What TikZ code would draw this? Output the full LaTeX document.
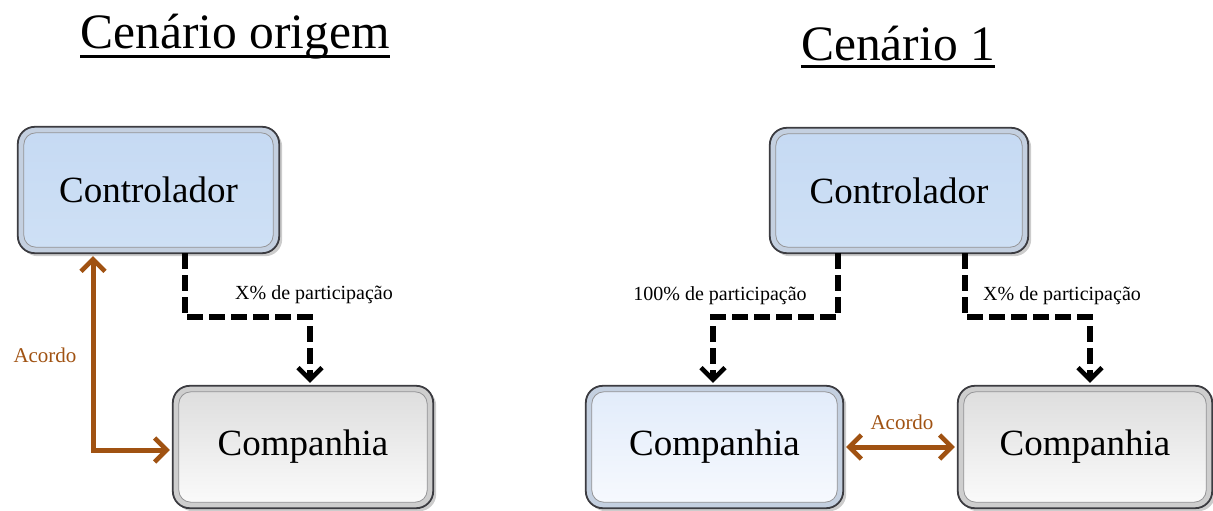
\documentclass[tikz,border=0pt]{standalone}
\usepackage{fontspec}
\setmainfont{Liberation Serif}
\usetikzlibrary{arrows.meta,backgrounds,calc}
\definecolor{brownarr}{RGB}{160,82,18}
\definecolor{bluetop}{RGB}{198,218,243}
\definecolor{bluemid}{RGB}{226,237,251}
\definecolor{bluebot}{RGB}{206,224,245}
\definecolor{lbluetop}{RGB}{226,236,250}
\definecolor{lbluebot}{RGB}{246,249,254}
\definecolor{graytop}{RGB}{222,222,222}
\definecolor{graybot}{RGB}{250,250,250}
\definecolor{frameblue}{RGB}{196,208,224}
\definecolor{framegray}{RGB}{206,206,206}
\definecolor{outline}{RGB}{60,60,65}
\tikzset{
  boxnode/.style={rectangle, inner sep=0pt, font=\fontsize{37}{40}\selectfont},
  title/.style={inner sep=0pt, anchor=base, font=\fontsize{49.5}{52}\selectfont},
  lbl/.style={inner sep=0pt, font=\fontsize{20}{22}\selectfont},
  acordo/.style={inner sep=0pt, text=brownarr, font=\fontsize{21}{23}\selectfont},
  barb/.tip={Straight Barb[length=12pt,width=24pt,line width=4.5pt]},
  dasharr/.style={line width=5.5pt, dash pattern=on 16pt off 6pt,
     -barb, shorten >=3pt},
  brownarr/.style={draw=brownarr, line width=5pt, barb-barb,
     shorten >=3pt, shorten <=3pt},
  outerframe/.style={rounded corners=17pt, draw=outline, line width=1.8pt},
  innerface/.style={rounded corners=12pt, draw=outline!55, line width=0.8pt},
  blueface/.style={top color=bluetop, middle color=bluemid, bottom color=bluebot},
  lblueface/.style={top color=lbluetop, bottom color=lbluebot},
  grayface/.style={top color=graytop, bottom color=graybot},
}
\begin{document}
\begin{tikzpicture}[x=1pt,y=-1pt]
\useasboundingbox (0,0) rectangle (1213,511);

% titles
\node[title] (t1) at (235,49) {Cenário origem};
\draw[line width=3pt] ($(t1.base west)+(0,8)$) -- ($(t1.base east)+(0,8)$);
\node[title] (t2) at (898,60) {Cenário 1};
\draw[line width=3pt] ($(t2.base west)+(0,7)$) -- ($(t2.base east)+(0,7)$);

% boxes
\node[boxnode, minimum width=261pt, minimum height=126pt] (lc) at (148.5,190) {Controlador};
\node[boxnode, minimum width=260pt, minimum height=122pt] (lp) at (303,447) {Companhia};
\node[boxnode, minimum width=258pt, minimum height=125pt] (rc) at (899,190.5) {Controlador};
\node[boxnode, minimum width=257pt, minimum height=122pt] (rp1) at (714.5,447) {Companhia};
\node[boxnode, minimum width=254pt, minimum height=122pt] (rp2) at (1085,447) {Companhia};

\begin{scope}[on background layer]
\foreach \n/\fr/\fc in {lc/frameblue/blueface, lp/framegray/grayface, rc/frameblue/blueface, rp1/frameblue/lblueface, rp2/framegray/grayface}{
  \fill[black, opacity=0.2, rounded corners=17pt] ([shift={(3pt,-3pt)}]\n.north west) rectangle ([shift={(3pt,-3pt)}]\n.south east);
  \draw[outerframe, fill=\fr] (\n.north west) rectangle (\n.south east);
  \shade[innerface, \fc] ([shift={(6pt,-6pt)}]\n.north west) rectangle ([shift={(-6pt,6pt)}]\n.south east);
}
\end{scope}

% left scenario connectors
\coordinate (la) at (185,317);
\coordinate (lb) at (310,317);
\draw[dasharr] (lc.south -| la) -- (la) -- (lb) -- (lp.north -| lb);
\node[lbl] (lx) at (314,295) {X\% de participação};

\coordinate (lk) at (93,450);
\draw[brownarr] (lc.south -| lk) -- (lk) -- (lp.west |- lk);
\node[acordo] (la1) at (45,355) {Acordo};

% right scenario connectors
\coordinate (ra) at (838,317);
\coordinate (rb) at (713,317);
\draw[dasharr] (rc.south -| ra) -- (ra) -- (rb) -- (rp1.north -| rb);
\node[lbl] (r100) at (720,296) {100\% de participação};

\coordinate (rc1) at (965,317);
\coordinate (rc2) at (1090,317);
\draw[dasharr] (rc.south -| rc1) -- (rc1) -- (rc2) -- (rp2.north -| rc2);
\node[lbl] (rx) at (1062,296) {X\% de participação};

\draw[brownarr] (rp1.east) -- (rp2.west);
\node[acordo] (ra1) at (902,422) {Acordo};
\end{tikzpicture}
\end{document}
